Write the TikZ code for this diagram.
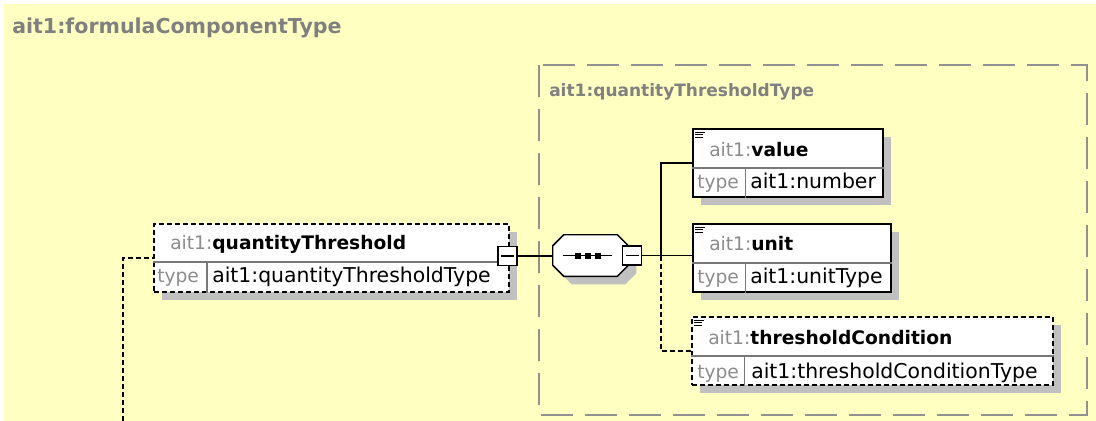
\documentclass[tikz,border=0pt]{standalone}
\usepackage{fontspec}
\setmainfont{DejaVu Sans}
\usetikzlibrary{calc,shadows}
\definecolor{bgyellow}{RGB}{255,255,194}
\definecolor{pfxgray}{RGB}{140,140,140}
\definecolor{ttlgray}{RGB}{128,128,128}
\definecolor{shadowgray}{RGB}{192,192,192}
\definecolor{grpgray}{RGB}{145,145,145}
\definecolor{divgray}{RGB}{120,120,120}
\newcommand\hdrfont{\fontsize{14}{16}\selectfont}
\newcommand\valfont{\fontsize{15.3}{17}\selectfont}
\newcommand\lblfont{\fontsize{14}{16}\selectfont}
\newcommand\pfx{\textcolor{pfxgray}{ait1:}}
\tikzset{
  shad/.style={drop shadow={shadow xshift=6pt, shadow yshift=-6pt, fill=shadowgray, opacity=1}},
  elem/.style={draw=black, fill=white, line width=1.4pt, inner sep=0pt, anchor=north west, minimum height=51pt, shad},
  optelem/.style={elem, dash pattern=on 3.75pt off 2.25pt},
  divline/.style={draw=divgray, line width=0.8pt},
  conn/.style={draw=black, line width=1.1pt},
  optconn/.style={conn, dash pattern=on 3.75pt off 2.25pt},
  minbox/.style={draw=black, fill=white, line width=1.1pt, inner sep=0pt, minimum size=14.25pt},
  txt/.style={inner sep=0pt, anchor=base west},
  grpbox/.style={draw=grpgray, line width=1.5pt, dash pattern=on 24pt off 9pt},
  docicon/.style={draw=black, line width=0.7pt}
}
\begin{document}
\begin{tikzpicture}[x=0.75pt,y=-0.75pt]
\useasboundingbox (0,0) rectangle (1096,421);
\fill[white] (0,0) rectangle (1096,421);
\fill[bgyellow] (4,4) rectangle (1096,421);

% titles
\node[txt] (ttl) at (12,33) {\fontsize{15.4}{17}\selectfont\bfseries\color{ttlgray}ait1:formulaComponentType};
\draw[grpbox] (539,65) rectangle (1087,415);
\node[txt] (grpttl) at (549,96) {\fontsize{12.75}{14}\selectfont\bfseries\color{ttlgray}ait1:quantityThresholdType};

% left dashed connector
\coordinate (lft) at (123,421);

% quantityThreshold element
\node[optelem, minimum width=266.25pt] (qt) at (153,223) {};
\draw[divline] ($(qt.north west)+(0,39)$) -- ($(qt.north east)+(0,39)$);
\draw[divline] ($(qt.north west)+(54,39)$) -- ($(qt.south west)+(54,0)$);
\node[txt] (qth) at (170,249) {\hdrfont\pfx\textbf{quantityThreshold}};
\node[txt] (qtl) at (157,282) {\lblfont\textcolor{pfxgray}{type}};
\node[txt] (qtv) at (212,282) {\valfont ait1:quantityThresholdType};
\draw[optconn] (lft) |- (qt.west);
\node[minbox] (qtm) at (507.5,256) {};
\draw[line width=1.1pt] ($(qtm.center)+(-6.5,0)$) -- ($(qtm.center)+(6.5,0)$);

% sequence compositor
\node[inner sep=0pt, minimum width=56.25pt, minimum height=30.75pt] (seq) at (590.5,255.5) {};
\draw[conn, fill=white, shad]
  ($(seq.north west)+(11,0)$) -- ($(seq.north east)+(-11,0)$) -- ($(seq.north east)+(0,11)$)
  -- ($(seq.south east)+(0,-11)$) -- ($(seq.south east)+(-11,0)$) -- ($(seq.south west)+(11,0)$)
  -- ($(seq.south west)+(0,-11)$) -- ($(seq.north west)+(0,11)$) -- cycle;
\draw[line width=1.1pt] ($(seq.west)+(10,0)$) -- ($(seq.east)+(-16,0)$);
\foreach \dx in {-13,-3,7} {
  \fill ($(seq.center)+(\dx-3,-3)$) rectangle ($(seq.center)+(\dx+3,3)$);
}
\draw[conn] (qtm.east) -- (qtm.east -| seq.west);
\node[minbox] (seqm) at (632,255.5) {};
\draw[line width=1.1pt] ($(seqm.center)+(-6.5,0)$) -- ($(seqm.center)+(6.5,0)$);

% children
\node[elem, minimum width=142.5pt] (val) at (692,128) {};
\node[elem, minimum width=148.5pt] (unit) at (692,223) {};
\node[optelem, minimum width=270.75pt] (tc) at (691,316) {};
\coordinate (br) at (661,255.5);
\draw[conn] (seqm.east) -- (br) |- (val.west);
\draw[conn] (br) -- (br -| unit.west);
\draw[optconn] (br) |- (tc.west);

\foreach \n in {val,unit,tc} {
  \draw[divline] ($(\n.north west)+(0,40)$) -- ($(\n.north east)+(0,40)$);
  \draw[divline] ($(\n.north west)+(53.5,40)$) -- ($(\n.south west)+(53.5,0)$);
  \draw[docicon] ($(\n.north west)+(3,4)$) -- ++(10,0);
  \draw[docicon] ($(\n.north west)+(3,6.5)$) -- ++(8,0);
  \draw[docicon] ($(\n.north west)+(3,9)$) -- ++(8,0);
}
\node[txt] (valh) at (709,156) {\hdrfont\pfx\textbf{value}};
\node[txt] (vall) at (697,188) {\lblfont\textcolor{pfxgray}{type}};
\node[txt] (valv) at (750,188) {\valfont ait1:number};
\node[txt] (unith) at (709,250) {\hdrfont\pfx\textbf{unit}};
\node[txt] (unitl) at (697,283) {\lblfont\textcolor{pfxgray}{type}};
\node[txt] (unitv) at (750,283) {\valfont ait1:unitType};
\node[txt] (tch) at (708,344) {\hdrfont\pfx\textbf{thresholdCondition}};
\node[txt] (tcl) at (697,378) {\lblfont\textcolor{pfxgray}{type}};
\node[txt] (tcv) at (751,378) {\valfont ait1:thresholdConditionType};
\end{tikzpicture}
\end{document}
